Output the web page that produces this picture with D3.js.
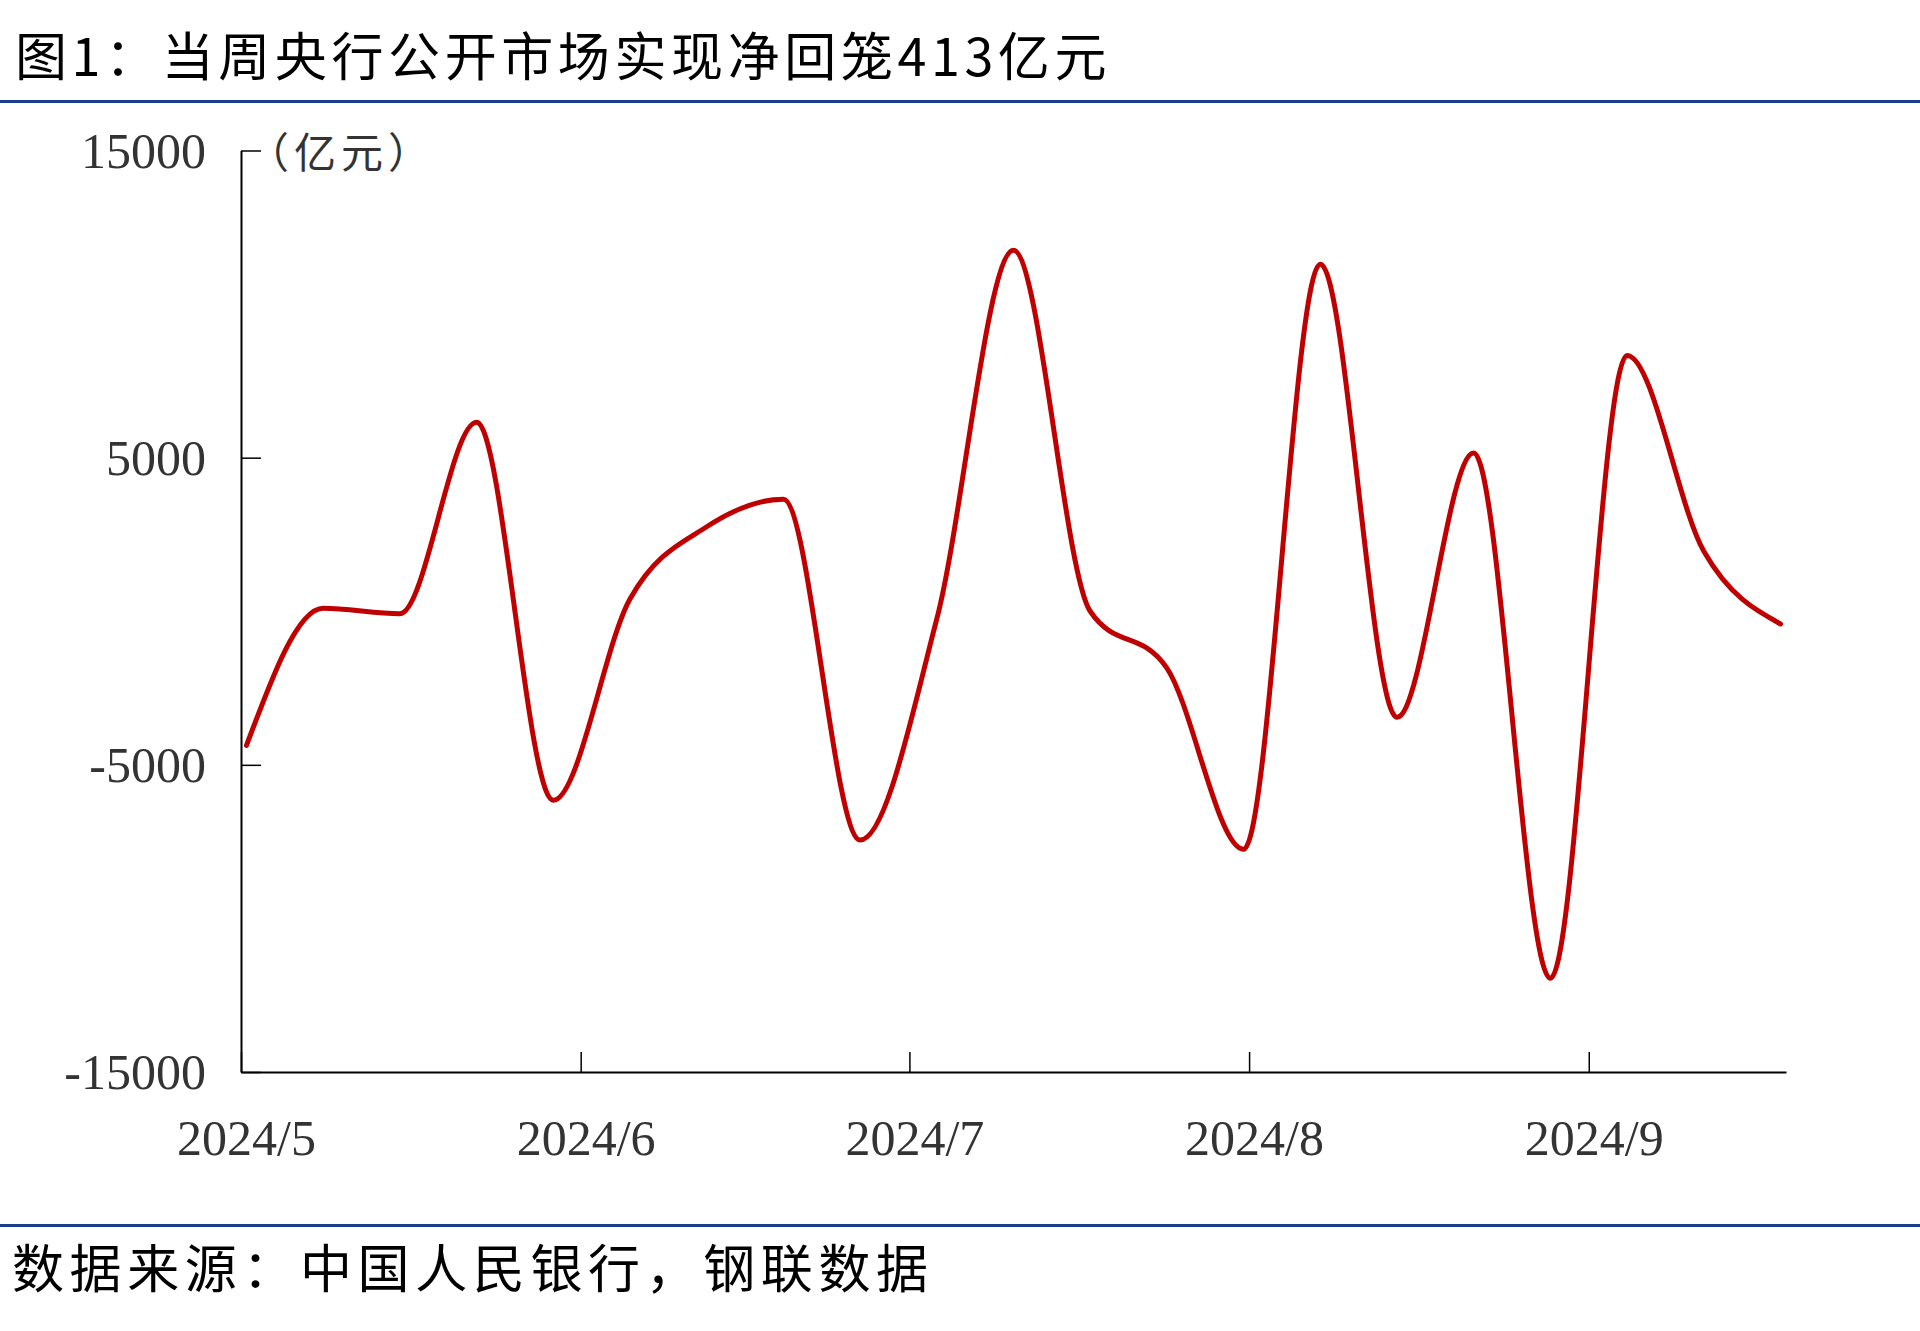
<!DOCTYPE html>
<html>
<head>
<meta charset="utf-8">
<script src="https://cdn.jsdelivr.net/npm/d3@7/dist/d3.min.js"></script>
<style>
  html, body { margin: 0; padding: 0; background: #fff; }
  svg { display: block; }
</style>
</head>
<body>
<script>
// ---- data ----
const titleText = "图1：当周央行公开市场实现净回笼413亿元";
const sourceText = "数据来源：中国人民银行，钢联数据";
const unitText = "（亿元）";
const dates = ["2024-05-01","2024-05-08","2024-05-15","2024-05-22","2024-05-29",
  "2024-06-05","2024-06-12","2024-06-19","2024-06-26","2024-07-03","2024-07-10",
  "2024-07-17","2024-07-24","2024-07-31","2024-08-07","2024-08-14","2024-08-21",
  "2024-08-28","2024-09-04","2024-09-11","2024-09-18"];
const netInjection = [-4370, 100, -80, 6150, -6150,
  400, 2750, 3650, -7450, -250, 11750,
  0, -1850, -7750, 11300, -3450, 5150,
  -11950, 8330, 1950, -413];
const yTicks = [-15000, -5000, 5000, 15000];
const monthTicks = ["2024-05-01","2024-06-01","2024-07-01","2024-08-01","2024-09-01"];
const monthLabels = ["2024/5","2024/6","2024/7","2024/8","2024/9"];
const xDomain = ["2024-05-01","2024-09-19"];

// ---- layout ----
const W = 1920, H = 1331;
const plot = { left: 241, right: 1786, top: 150.5, bottom: 1072 };
const HALF_DAY = 12 * 3600 * 1000;
const parse = d3.utcParse("%Y-%m-%d");

const svg = d3.select("body").append("svg").attr("width", W).attr("height", H);
svg.append("rect").attr("width", W).attr("height", H).attr("fill", "#fff");

const x = d3.scaleUtc().domain(xDomain.map(parse)).range([plot.left, plot.right]);
const y = d3.scaleLinear().domain([-15000, 15000]).range([plot.bottom, plot.top]);

// title & rules
svg.append("text").attr("x", 15).attr("y", 76)
  .attr("font-family", "'Noto Sans CJK SC', sans-serif").attr("font-size", 52)
  .attr("letter-spacing", 4.6).attr("fill", "#000").text(titleText);
svg.append("line").attr("x1", 0).attr("x2", W).attr("y1", 101.5).attr("y2", 101.5)
  .attr("stroke", "#1B3F8B").attr("stroke-width", 3);
svg.append("line").attr("x1", 0).attr("x2", W).attr("y1", 1225.5).attr("y2", 1225.5)
  .attr("stroke", "#1B3F8B").attr("stroke-width", 3);
svg.append("text").attr("x", 12).attr("y", 1288)
  .attr("font-family", "'Noto Sans CJK SC', sans-serif").attr("font-size", 52)
  .attr("letter-spacing", 5.6).attr("fill", "#000").text(sourceText);

// y axis
const yAxis = d3.axisLeft(y).tickValues(yTicks).tickSizeInner(-20).tickSizeOuter(0)
  .tickPadding(35).tickFormat(d => String(d));
const gy = svg.append("g").attr("transform", `translate(${plot.left},0)`).call(yAxis);
gy.select(".domain").attr("stroke", "#000").attr("stroke-width", 2);
gy.selectAll(".tick line").attr("stroke", "#000").attr("stroke-width", 1.5);
gy.selectAll(".tick text").attr("font-family", "'Liberation Serif', 'Times New Roman', serif")
  .attr("font-size", 50).attr("fill", "#333").attr("dy", "0.33em");

// unit label
svg.append("text").attr("x", 247).attr("y", 168)
  .attr("font-family", "'Noto Sans CJK SC', sans-serif").attr("font-size", 42)
  .attr("letter-spacing", 5).attr("fill", "#333").text(unitText);

// x axis
const xAxis = d3.axisBottom(x).tickValues(monthTicks.map(parse)).tickSizeInner(-20)
  .tickSizeOuter(0).tickFormat("");
const gx = svg.append("g").attr("transform", `translate(0,${plot.bottom})`).call(xAxis);
gx.select(".domain").attr("stroke", "#000").attr("stroke-width", 2);
gx.selectAll(".tick line").attr("stroke", "#000").attr("stroke-width", 1.5);

svg.append("g").selectAll("text").data(monthTicks).join("text")
  .attr("x", d => x(new Date(+parse(d) + HALF_DAY)))
  .attr("y", 1155)
  .attr("text-anchor", "middle")
  .attr("font-family", "'Liberation Serif', 'Times New Roman', serif")
  .attr("font-size", 50).attr("fill", "#333")
  .text((d, i) => monthLabels[i]);

// line
const data = dates.map((d, i) => ({ date: parse(d), v: netInjection[i] }));
const line = d3.line()
  .x(d => x(new Date(+d.date + HALF_DAY)))
  .y(d => y(d.v))
  .curve(d3.curveMonotoneX);
svg.append("path").datum(data).attr("d", line)
  .attr("fill", "none").attr("stroke", "#C00000").attr("stroke-width", 5)
  .attr("stroke-linejoin", "round").attr("stroke-linecap", "round");
</script>
</body>
</html>
